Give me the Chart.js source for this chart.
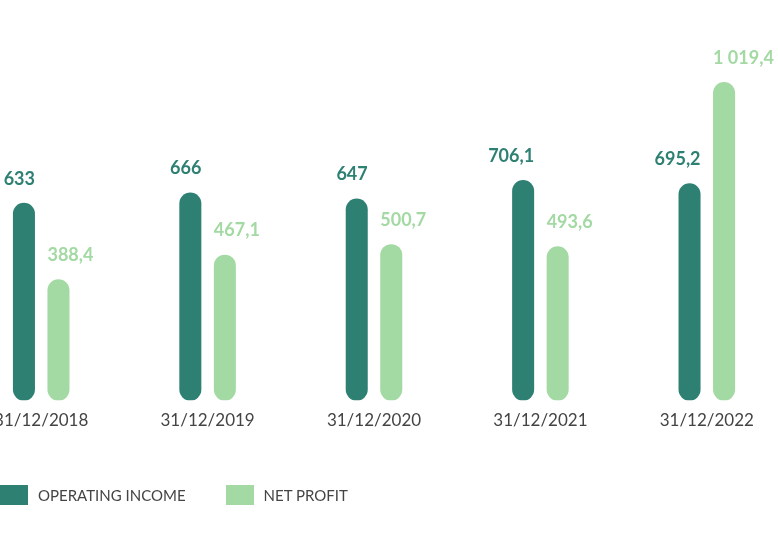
<!DOCTYPE html>
<html>
<head>
<meta charset="utf-8">
<script src="https://cdn.jsdelivr.net/npm/chart.js@4.4.0/dist/chart.umd.min.js"></script>
<style>
    body { margin: 0; background: #fff; width: 778px; height: 540px; overflow: hidden; position: relative; font-family: Lato, sans-serif; }
    #wrap { position: absolute; left: -42px; top: 0; width: 832px; height: 540px; }
    .legend { position: absolute; top: 485px; left: 0; display: flex; align-items: center; font-size: 15px; color: #444; }
    .legend .item { display: flex; align-items: center; margin-right: 40px; }
    .legend .box { width: 28px; height: 20px; margin-right: 10px; }
</style>
</head>
<body>
<div id="wrap"><canvas id="chart"></canvas></div>
<div class="legend">
    <div class="item"><span class="box" style="background:#2e8073"></span>OPERATING INCOME</div>
    <div class="item"><span class="box" style="background:#a3d9a3"></span>NET PROFIT</div>
</div>
<script>
const categories = ['31/12/2018', '31/12/2019', '31/12/2020', '31/12/2021', '31/12/2022'];
const operatingIncome = [633, 666, 647, 706.1, 695.2];
const netProfit = [388.4, 467.1, 500.7, 493.6, 1019.4];
const seriesNames = ['OPERATING INCOME', 'NET PROFIT'];

const darkGreen = '#2e8073';
const lightGreen = '#a3d9a3';

function formatValue(v) {
    // french style: space thousands, comma decimal
    let parts = (Math.round(v * 10) / 10).toString().split('.');
    let intPart = parts[0].replace(/\B(?=(\d{3})+(?!\d))/g, ' ');
    return parts[1] ? intPart + ',' + parts[1] : intPart;
}

const valueLabels = {
    id: 'valueLabels',
    afterDatasetsDraw(chart) {
        const ctx = chart.ctx;
        ctx.save();
        chart.data.datasets.forEach((ds, di) => {
            const meta = chart.getDatasetMeta(di);
            meta.data.forEach((bar, i) => {
                const txt = formatValue(ds.data[i]);
                ctx.fillStyle = ds.backgroundColor;
                ctx.textBaseline = 'middle';
                ctx.font = 'bold 18px Lato';
                if (di === 0) {
                    ctx.textAlign = 'right';
                    ctx.fillText(txt, bar.x + bar.width / 2, bar.y - 24);
                } else {
                    ctx.textAlign = 'left';
                    ctx.fillText(txt, bar.x - bar.width / 2, bar.y - 24);
                }
            });
        });
        ctx.restore();
    }
};

new Chart(document.getElementById('chart'), {
    type: 'bar',
    data: {
        labels: categories,
        datasets: [
            { label: seriesNames[0], data: operatingIncome, backgroundColor: darkGreen },
            { label: seriesNames[1], data: netProfit, backgroundColor: lightGreen }
        ]
    },
    options: {
        responsive: true,
        maintainAspectRatio: false,
        animation: false,
        layout: { padding: { top: 10, bottom: 99, left: 0, right: 0 } },
        datasets: {
            bar: {
                categoryPercentage: 0.415,
                barPercentage: 0.638,
                borderRadius: 11,
                borderSkipped: false
            }
        },
        plugins: {
            legend: { display: false },
            tooltip: { enabled: false }
        },
        scales: {
            x: {
                grid: { display: false, drawTicks: false },
                border: { display: false },
                ticks: { color: '#444', font: { family: 'Lato', size: 17 }, padding: 10 }
            },
            y: {
                display: false,
                min: 0,
                max: 1250
            }
        }
    },
    plugins: [valueLabels]
});
</script>
</body>
</html>
